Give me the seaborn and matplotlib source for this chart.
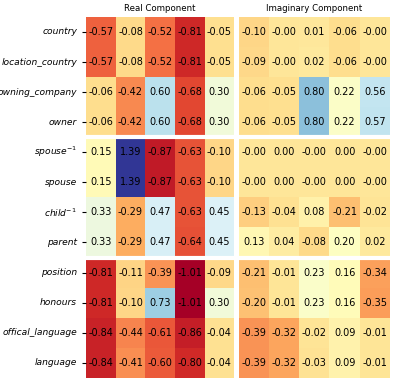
import seaborn as sns
import numpy as np
import matplotlib.pyplot as plt
import pandas as pd

relations = ["country", "location_country", "owning_company", "owner",
             "spouse$^{-1}$", "spouse", "child$^{-1}$", "parent",
             "position", "honours", "offical_language", "language"]

real = [[-0.57, -0.08, -0.52, -0.81, -0.05],
        [-0.57, -0.08, -0.52, -0.81, -0.05],
        [-0.06, -0.42, 0.60, -0.68, 0.30],
        [-0.06, -0.42, 0.60, -0.68, 0.30],
        [0.15, 1.39, -0.87, -0.63, -0.10],
        [0.15, 1.39, -0.87, -0.63, -0.10],
        [0.33, -0.29, 0.47, -0.63, 0.45],
        [0.33, -0.29, 0.47, -0.64, 0.45],
        [-0.81, -0.11, -0.39, -1.01, -0.09],
        [-0.81, -0.10, 0.73, -1.01, 0.30],
        [-0.84, -0.44, -0.61, -0.86, -0.04],
        [-0.84, -0.41, -0.60, -0.80, -0.04]]

imag = [[-0.10, -0.0, 0.01, -0.06, -0.0],
        [-0.09, -0.0, 0.02, -0.06, -0.0],
        [-0.06, -0.05, 0.80, 0.22, 0.56],
        [-0.06, -0.05, 0.80, 0.22, 0.57],
        [-0.0, 0.0, -0.0, 0.0, -0.0],
        [-0.0, 0.0, -0.0, 0.0, -0.0],
        [-0.13, -0.04, 0.08, -0.21, -0.02],
        [0.13, 0.04, -0.08, 0.20, 0.02],
        [-0.21, -0.01, 0.23, 0.16, -0.34],
        [-0.20, -0.01, 0.23, 0.16, -0.35],
        [-0.39, -0.32, -0.02, 0.09, -0.01],
        [-0.39, -0.32, -0.03, 0.09, -0.01]]

df_real = pd.DataFrame(real, index=relations)
df_imag = pd.DataFrame(imag, index=relations)
vmin = min(np.min(real), np.min(imag))
vmax = max(np.max(real), np.max(imag))

fig = plt.figure(figsize=(3.93, 3.84), dpi=100)
ax1 = fig.add_axes([0.219, 0.016, 0.377, 0.940])
ax2 = fig.add_axes([0.608, 0.016, 0.384, 0.940])

kw = dict(cmap="RdYlBu", vmin=vmin, vmax=vmax, annot=True, fmt=".2f",
          cbar=False, xticklabels=False,
          annot_kws={"color": "black", "fontsize": 7})
sns.heatmap(df_real, ax=ax1, **kw)
sns.heatmap(df_imag, ax=ax2, yticklabels=False, **kw)

for ax, title in [(ax1, "Real Component"), (ax2, "Imaginary Component")]:
    for y in [4, 8]:
        ax.axhline(y, color="white", linewidth=3)
    ax.set_title(title, fontsize=6.2, pad=4)
    ax.set_ylabel("")
    ax.tick_params(axis="x", length=0)

ax1.tick_params(axis="y", labelsize=6.6, length=3, width=0.8)
for lab in ax1.get_yticklabels():
    lab.set_fontstyle("italic")
    lab.set_rotation(0)

fig.savefig("out.png", dpi=100)
